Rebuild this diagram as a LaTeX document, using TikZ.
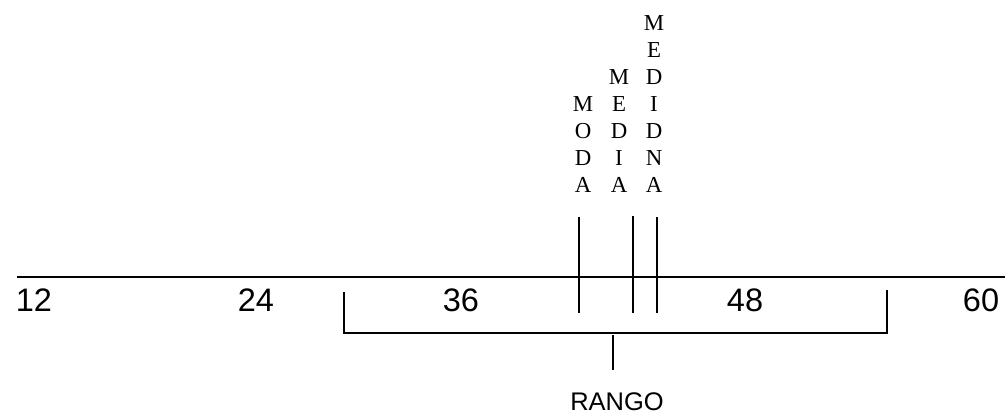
\documentclass[tikz,border=0pt]{standalone}
\usepackage{fontspec}
\setmainfont{Liberation Serif}
\setsansfont{Liberation Sans}
\usetikzlibrary{positioning}
\tikzset{axisline/.style={line width=1.2pt},
         markline/.style={line width=1.1pt},
         bracketline/.style={line width=1pt},
         numlabel/.style={font=\sffamily\fontsize{18.5}{20}\selectfont,inner sep=0pt},
         stacked/.style={align=center,anchor=south,inner sep=0pt,
            font=\fontsize{13}{15.37}\selectfont}}

\begin{document}
\begin{tikzpicture}[x=0.02cm,y=-0.02cm]
  \useasboundingbox (0,0) rectangle (1005,414);
  % axis with values
  \coordinate (axisL) at (17,277);
  \coordinate (axisR) at (1005,277);
  \draw[axisline] (axisL) -- (axisR);
  \node[numlabel] (n12) at (34,300) {12};
  \node[numlabel] (n24) at (256,300) {24};
  \node[numlabel] (n36) at (461,300) {36};
  \node[numlabel] (n48) at (745,300) {48};
  \node[numlabel] (n60) at (981,300) {60};
  % moda, media, mediana
  \node[stacked] (moda) at (583,193) {M\\O\\D\\A};
  \node[stacked] (media) at (619,193) {M\\E\\D\\I\\A};
  \node[stacked] (mediana) at (654,193) {M\\E\\D\\I\\D\\N\\A};
  \coordinate (modaT) at (579,217);   \coordinate (modaB) at (579,313);
  \coordinate (mediaT) at (633,216);  \coordinate (mediaB) at (633,313);
  \coordinate (medianaT) at (657,217); \coordinate (medianaB) at (657,313);
  \draw[markline] (modaT) -- (modaB);
  \draw[markline] (mediaT) -- (mediaB);
  \draw[markline] (medianaT) -- (medianaB);
  % rango
  \coordinate (brLT) at (344,292);
  \coordinate (brLB) at (344,333);
  \coordinate (brRT) at (887,290);
  \coordinate (brRB) at (887,333);
  \draw[bracketline] (brLT) -- (brLB) -- (brRB) -- (brRT);
  \coordinate (stubT) at (613,335);
  \coordinate (stubB) at (613,370);
  \draw[bracketline] (stubT) -- (stubB);
  \node[font=\sffamily\fontsize{14.5}{16}\selectfont,inner sep=0pt] (rango) at (617,402) {RANGO};
\end{tikzpicture}
\end{document}
